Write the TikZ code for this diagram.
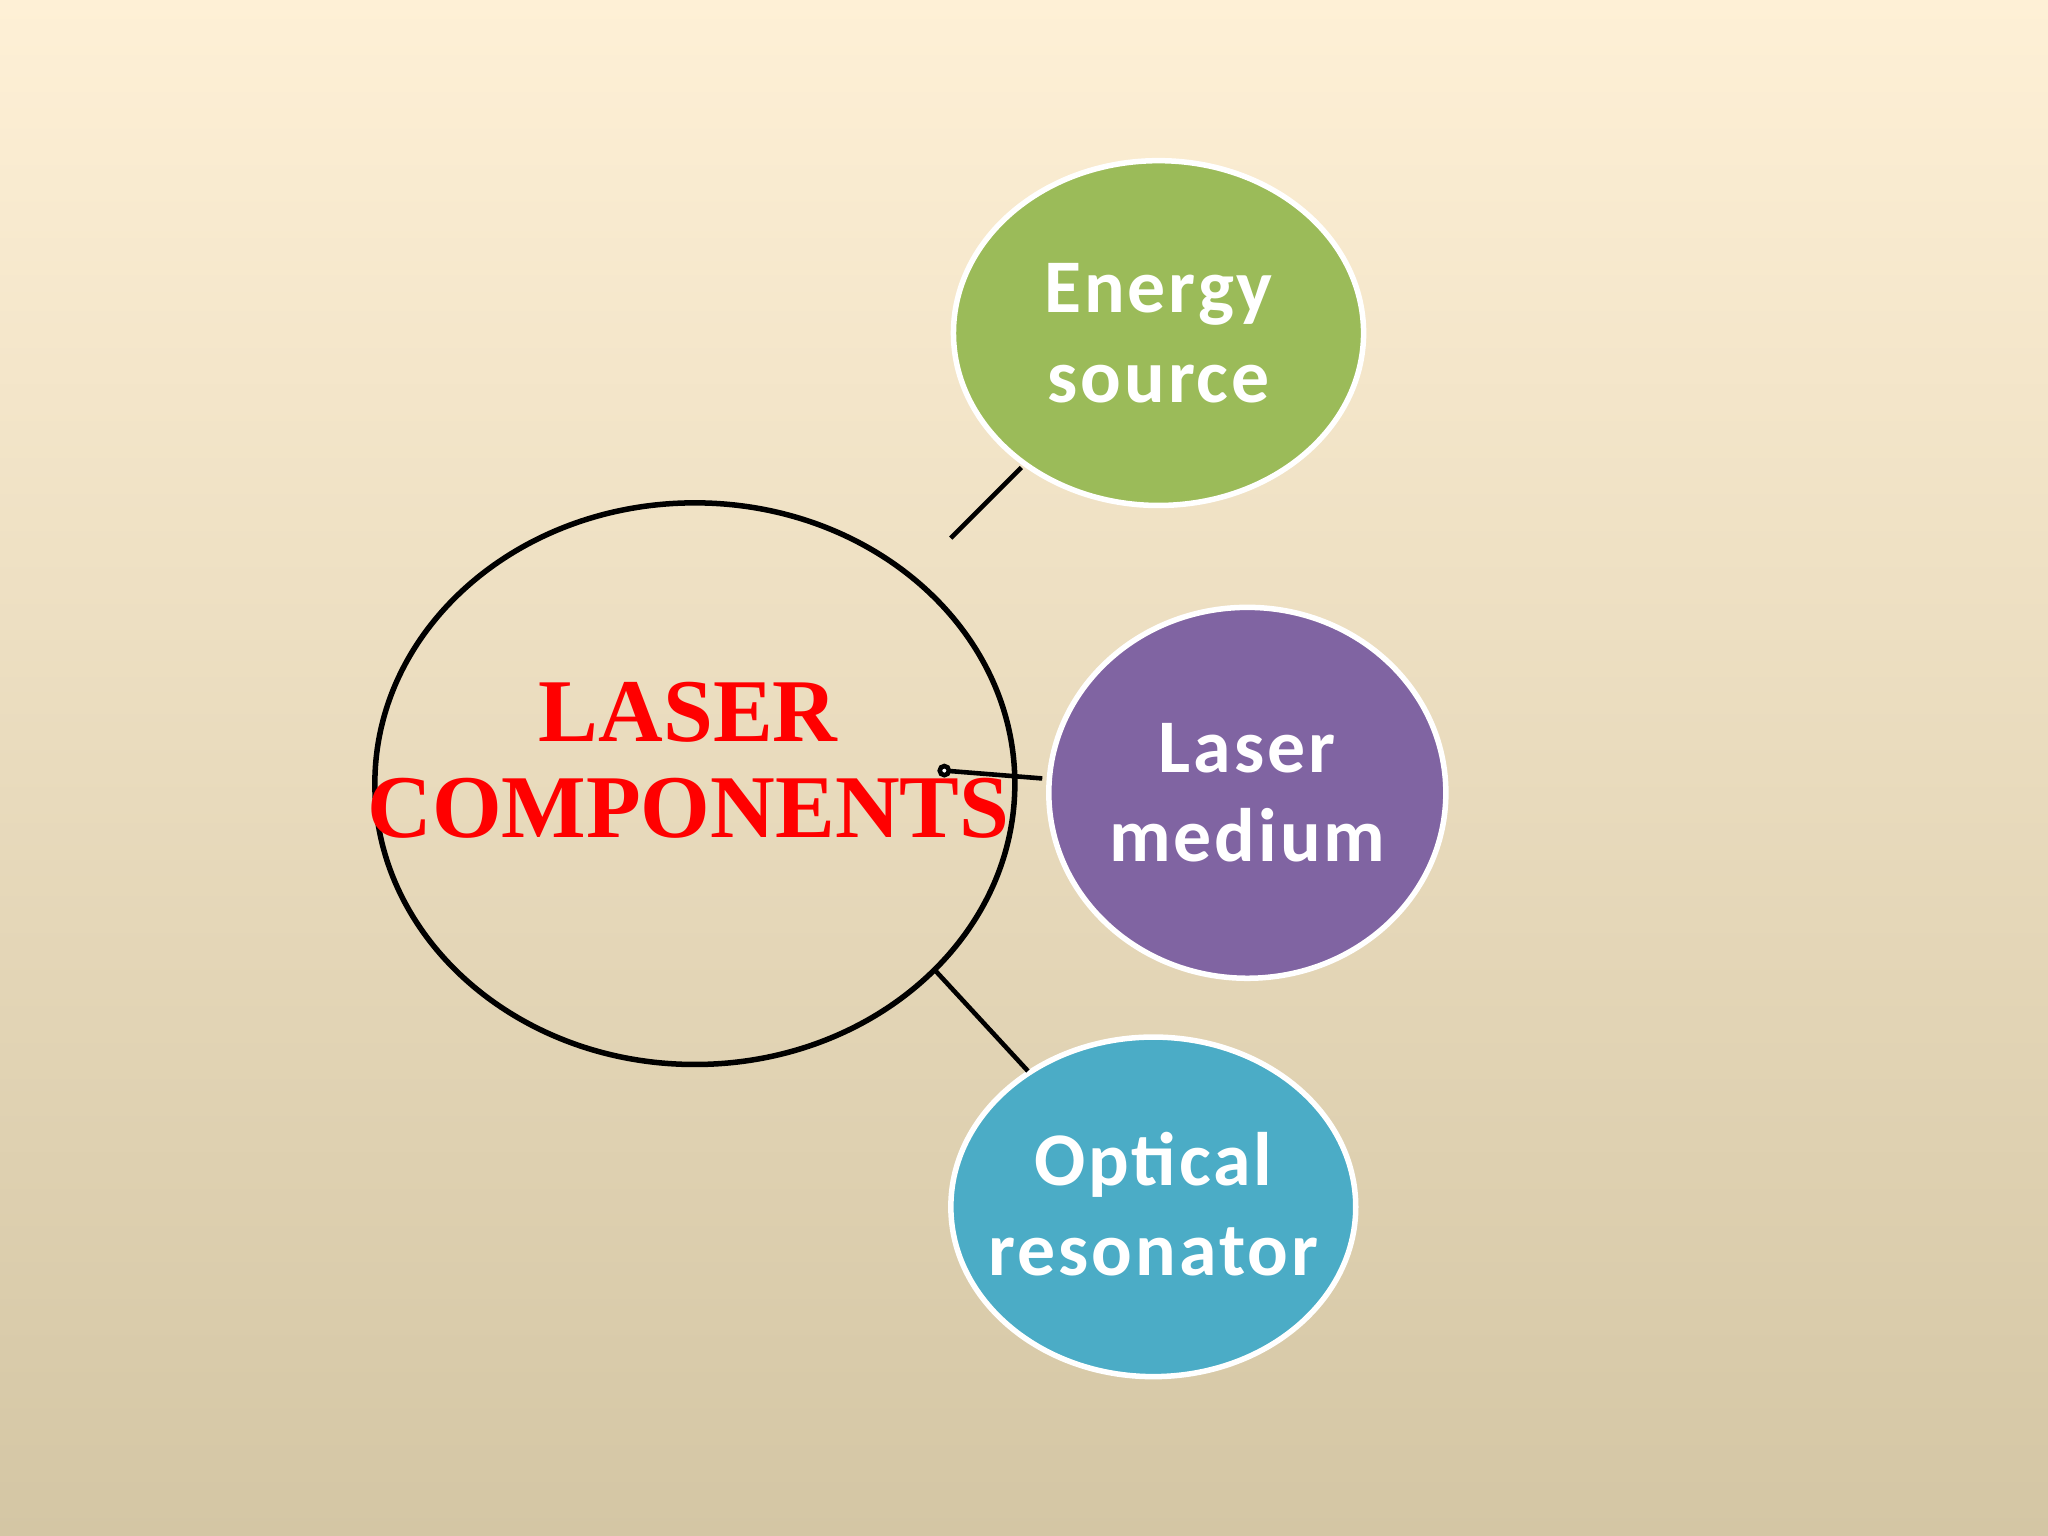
\documentclass[tikz,border=0pt]{standalone}
\usepackage{fontspec}
\setmainfont{Liberation Serif}
\newfontfamily\calib{Carlito}[LetterSpace=4]
\definecolor{bgtop}{HTML}{FEF0D6}
\definecolor{bgbot}{HTML}{D4C6A4}
\definecolor{cgreen}{HTML}{9BBB59}
\definecolor{cpurple}{HTML}{8064A2}
\definecolor{cblue}{HTML}{4BACC6}
\tikzset{
  comptext/.style={font=\calib\bfseries\fontsize{16.5}{19.5}\selectfont, text=white, align=center, inner sep=0pt},
  compfill/.style={draw=white, line width=1.2pt},
  conn/.style={line width=1pt, black}
}
\begin{document}
\begin{tikzpicture}[x=0.01cm,y=-0.01cm]
\shade[top color=bgtop, bottom color=bgbot] (0,0) rectangle (1568,1176);
\useasboundingbox (0,0) rectangle (1568,1176);
\draw[line width=1.2pt] (532,600) ellipse [x radius=245, y radius=215];
\node[text=red, align=center, inner sep=0pt, font=\bfseries\fontsize{19.5}{23}\selectfont] (main) at (527,582) {LASER\\[-2pt]COMPONENTS};
\fill[cgreen, compfill] (887,255) ellipse [x radius=157, y radius=132];
\node[comptext] (en) at (887,255) {Energy\\source};
\fill[cpurple, compfill] (955,607) ellipse [x radius=152, y radius=142];
\node[comptext] (med) at (955,607) {Laser\\medium};
\fill[cblue, compfill] (883,924) ellipse [x radius=155, y radius=130];
\node[comptext] (opt) at (883,922) {Optical\\resonator};
\coordinate (a1) at (728,412); \coordinate (a2) at (782,358);
\coordinate (b1) at (723,590); \coordinate (b2) at (798,596);
\coordinate (c1) at (716,743); \coordinate (c2) at (787,820);
\draw[conn] (a1) -- (a2);
\draw[conn] (b1) -- (b2);
\draw[conn, fill=white] (b1) circle (3.5);
\draw[conn] (c1) -- (c2);
\end{tikzpicture}
\end{document}
